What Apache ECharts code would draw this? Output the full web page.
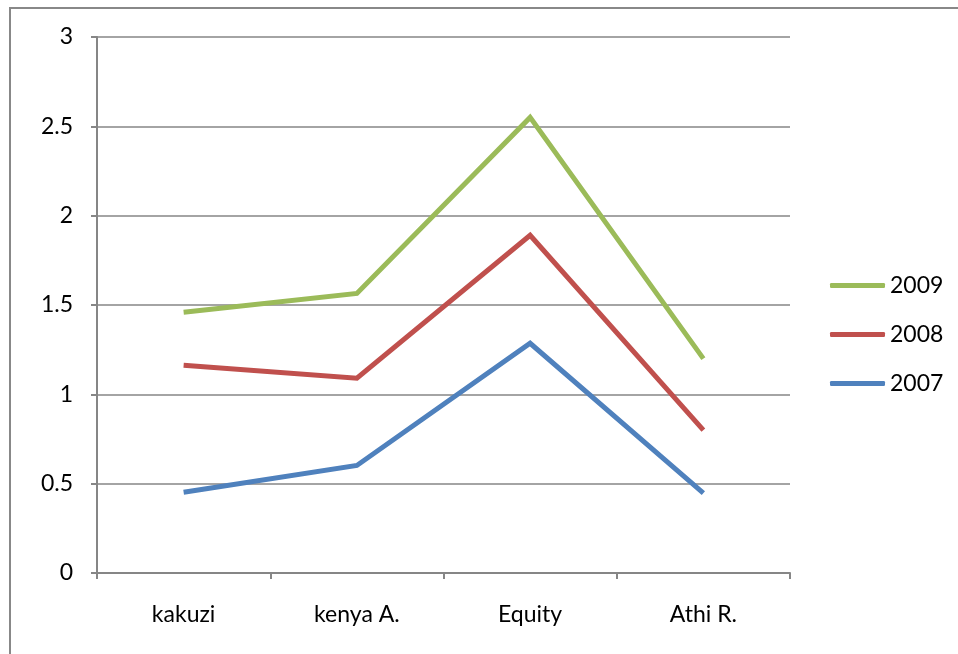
<!DOCTYPE html>
<html>
<head>
<meta charset="utf-8">
<script src="https://cdn.jsdelivr.net/npm/echarts@6/dist/echarts.min.js"></script>
<style>
html,body{margin:0;padding:0;background:#fff;}
#c{width:958px;height:654px;}
</style>
</head>
<body>
<div id="c"></div>
<script>
var categories = ['kakuzi', 'kenya A.', 'Equity', 'Athi R.'];
var s2009 = [1.46, 1.565, 2.55, 1.2];
var s2008 = [1.163, 1.09, 1.89, 0.80];
var s2007 = [0.452, 0.602, 1.286, 0.447];
var seriesNames = ['2009', '2008', '2007'];
var yTicks = [0, 0.5, 1, 1.5, 2, 2.5, 3];

var font = 'Lato, "Open Sans", sans-serif';
var chart = echarts.init(document.getElementById('c'), null, {renderer: 'canvas'});
function mk(name, data, color) {
  return {
    name: name, type: 'line', data: data, symbol: 'none',
    lineStyle: {color: color, width: 5, join: 'miter'},
    itemStyle: {color: color},
    animation: false
  };
}
chart.setOption({
  backgroundColor: '#fff',
  animation: false,
  graphic: [{
    type: 'rect', shape: {x: 10, y: 8, width: 1000, height: 700},
    style: {fill: 'none', stroke: '#888', lineWidth: 2}, silent: true
  }],
  grid: {left: 97, right: 168, top: 37, bottom: 81},
  legend: {
    orient: 'vertical', left: 830, top: 274, padding: 0,
    itemWidth: 55, itemHeight: 5, itemGap: 26,
    icon: 'roundRect',
    data: seriesNames,
    textStyle: {fontFamily: font, fontSize: 23, color: '#000', padding: [0,0,0,0]}
  },
  xAxis: {
    type: 'category', data: categories, boundaryGap: true,
    axisLine: {lineStyle: {color: '#868686', width: 2}},
    axisTick: {show: true, length: 6, alignWithLabel: false, lineStyle: {color: '#868686', width: 2}},
    axisLabel: {fontFamily: font, fontSize: 23, color: '#000', margin: 30}
  },
  yAxis: {
    type: 'value', min: yTicks[0], max: yTicks[yTicks.length-1], interval: 0.5,
    axisLine: {show: true, lineStyle: {color: '#868686', width: 2}},
    axisTick: {show: true, length: 6, lineStyle: {color: '#868686', width: 2}},
    splitLine: {lineStyle: {color: '#868686', width: 1.5}},
    axisLabel: {fontFamily: font, fontSize: 23, color: '#000', margin: 24}
  },
  series: [
    mk('2009', s2009, '#9BBB59'),
    mk('2008', s2008, '#C0504D'),
    mk('2007', s2007, '#4F81BD')
  ]
});
</script>
</body>
</html>
